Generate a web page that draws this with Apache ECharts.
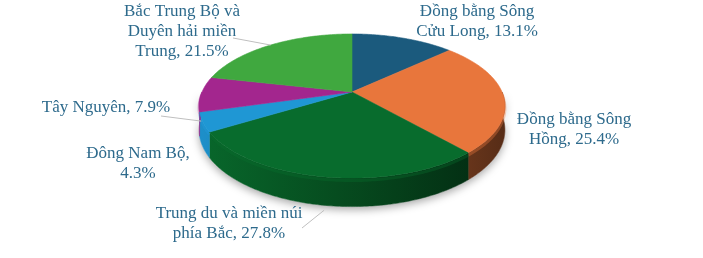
<!DOCTYPE html>
<html>
<head>
<meta charset="utf-8">
<script src="https://cdn.jsdelivr.net/npm/echarts@6/dist/echarts.min.js"></script>
<style>
html, body { margin: 0; background: #fff; }
#pie { width: 703px; height: 258px; }
</style>
</head>
<body>
<div id="pie"></div>
<script>
// dữ liệu
const regions = [
    'Đồng bằng Sông Cửu Long',
    'Đồng bằng Sông Hồng',
    'Trung du và miền núi phía Bắc',
    'Đông Nam Bộ',
    'Tây Nguyên',
    'Bắc Trung Bộ và Duyên hải miền Trung',
]
const shares = [13.1, 25.4, 27.8, 4.3, 7.9, 21.5]
const labelTexts = [
    'Đồng bằng Sông\nCửu Long, 13.1%',
    'Đồng bằng Sông\nHồng, 25.4%',
    'Trung du và miền núi\nphía Bắc, 27.8%',
    'Đông Nam Bộ,\n4.3%',
    'Tây Nguyên, 7.9%',
    'Bắc Trung Bộ và\nDuyên hải miền\nTrung, 21.5%',
]

// màu & bố cục
const topColors = ['#1b5a7d', '#e8763c', '#086c2d', '#1f97d4', '#a3268e', '#40a83f']
const labelAt = [[477, 22], [574, 130], [229, 224], [138, 164], [106, 108], [182, 32]]
const leaderEnd = [null, null, [302, 228], null, [161, 116], [233, 38]]
const textColor = '#2d6a8c'

const pie = {
    cx: 352,
    cy: 92,
    r: 150,
    tilt: 0.462,
    persp: 0.1945,
    depth: 23,
}

const project = function(theta, drop, k) {
    k = k || 1
    const p = 1 / (1 + pie.persp * Math.cos(theta))
    const x = pie.cx + pie.r * k * Math.sin(theta) * p
    const y = pie.cy - pie.r * k * pie.tilt * Math.cos(theta) * p + drop * p
    return [x, y]
}

const arc = function(a, b, drop) {
    const pts = []
    const n = Math.max(2, Math.ceil((b - a) / 0.015))
    for (let i = 0; i <= n; i++) {
        pts.push(project(a + (b - a) * i / n, drop))
    }
    return pts
}

const shade = function(hex, f) {
    const n = parseInt(hex.slice(1), 16)
    const c = [(n >> 16) & 255, (n >> 8) & 255, n & 255].map(v => Math.max(0, Math.min(255, Math.round(v * f))))
    return 'rgb(' + c.join(',') + ')'
}

// góc bắt đầu / kết thúc của từng phần
const total = shares.reduce((s, v) => s + v, 0)
const slices = []
let acc = 0
shares.forEach((v, i) => {
    const a = acc / total * Math.PI * 2
    acc += v
    const b = acc / total * Math.PI * 2
    slices.push([a, b, i])
})

const renderShadow = function() {
    const top = arc(Math.PI / 2, Math.PI * 1.5, 0)
    const bottom = arc(Math.PI / 2, Math.PI * 1.5, pie.depth).reverse()
    return {
        type: 'polygon',
        shape: { points: top.concat(bottom) },
        style: {
            fill: '#fff',
            shadowBlur: 8,
            shadowOffsetY: 3,
            shadowColor: 'rgba(0,0,0,0.35)',
        },
    }
}

const renderSide = function(params, api) {
    const a = Math.max(api.value(0), Math.PI / 2)
    const b = Math.min(api.value(1), Math.PI * 1.5)
    const color = topColors[api.value(2)]
    if (b <= a) {
        return
    }
    const top = arc(a, b, 0)
    const bottom = arc(a, b, pie.depth).reverse()
    const grad = new echarts.graphic.LinearGradient(pie.cx - pie.r, 0, pie.cx + pie.r, 0, [
        { offset: 0, color: shade(color, 0.95) },
        { offset: 0.45, color: shade(color, 0.7) },
        { offset: 1, color: shade(color, 0.38) },
    ], true)
    return {
        type: 'group',
        children: [
            {
                type: 'polygon',
                shape: { points: top.concat(bottom) },
                style: { fill: grad, stroke: grad, lineWidth: 0.5 },
            },
            {
                type: 'polyline',
                shape: { points: arc(a, b, 2) },
                style: { stroke: shade(color, 1.05), lineWidth: 3, fill: null, opacity: 0.35 },
            },
        ],
    }
}

const renderTop = function(params, api) {
    const a = api.value(0)
    const b = api.value(1)
    const color = topColors[api.value(2)]
    const pts = [[pie.cx, pie.cy]].concat(arc(a, b, 0))
    return {
        type: 'polygon',
        shape: { points: pts },
        style: { fill: color, stroke: color, lineWidth: 0.6 },
    }
}

// đường dẫn nhãn
const renderLeader = function(params, api) {
    const i = api.value(2)
    if (!leaderEnd[i]) {
        return
    }
    const mid = (api.value(0) + api.value(1)) / 2
    const front = Math.cos(mid) < 0
    const start = project(mid, front ? pie.depth + 4 : 0, 1.0)
    return {
        type: 'polyline',
        shape: { points: [start, leaderEnd[i]] },
        style: { stroke: '#bfbfbf', lineWidth: 1, fill: null },
    }
}

const labelGraphics = function() {
    return labelTexts.map((t, i) => {
        return {
            type: 'text',
            x: labelAt[i][0],
            y: labelAt[i][1],
            z: 10,
            silent: true,
            style: {
                text: t,
                font: '17px "Liberation Serif"',
                fill: textColor,
                align: 'center',
                verticalAlign: 'middle',
                lineHeight: 20,
            },
        }
    })
}

const __main = function() {
    const chart = echarts.init(document.getElementById('pie'))
    const option = {
        animation: false,
        graphic: labelGraphics(),
        series: [
            { type: 'custom', coordinateSystem: 'none', silent: true, z: 1, data: [[0]], renderItem: renderShadow },
            { type: 'custom', coordinateSystem: 'none', silent: true, z: 2, data: slices, renderItem: renderSide },
            { type: 'custom', coordinateSystem: 'none', silent: true, z: 3, data: slices, renderItem: renderTop },
            { type: 'custom', coordinateSystem: 'none', silent: true, z: 4, data: slices, renderItem: renderLeader },
        ],
    }
    chart.setOption(option)
}

__main()
</script>
</body>
</html>
